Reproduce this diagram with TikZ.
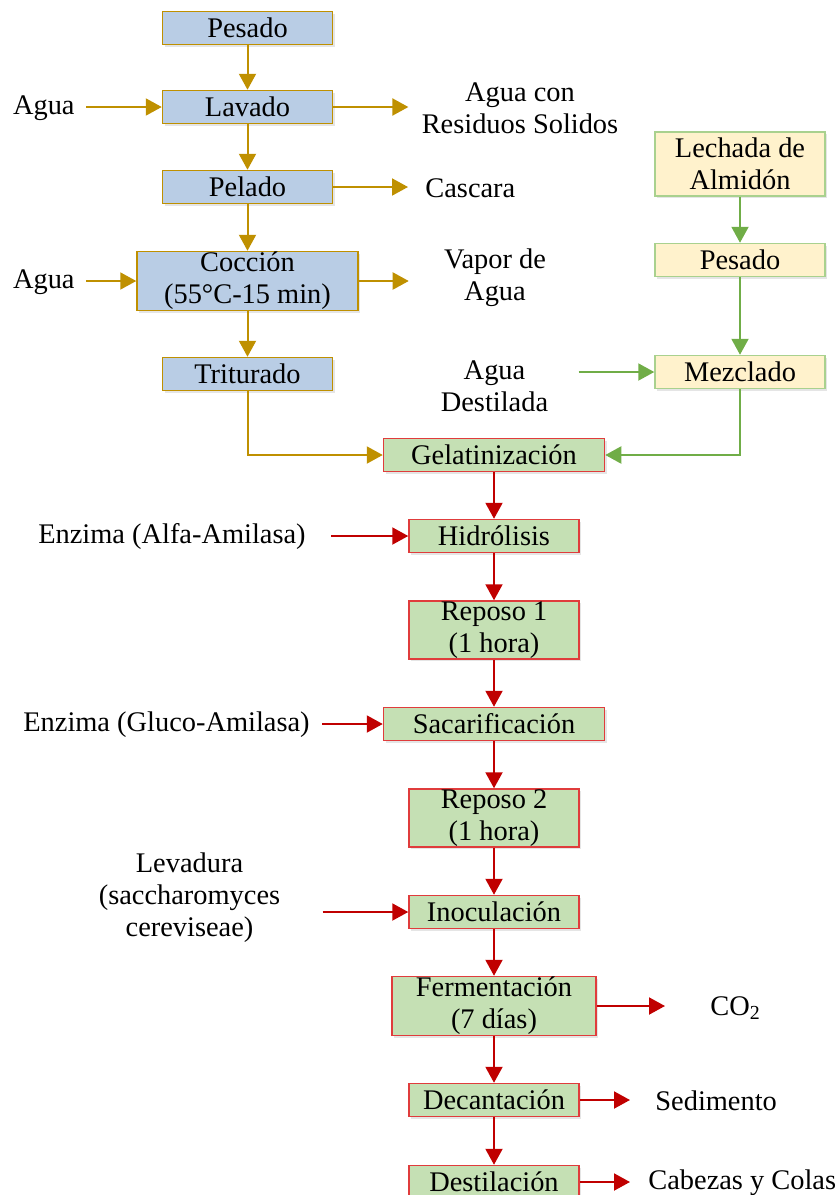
\documentclass[tikz,border=0pt]{standalone}
\usepackage{fontspec}
\setmainfont{Liberation Serif}
\usepackage{xcolor}
\definecolor{boxblue}{RGB}{185,205,229}
\definecolor{gold}{RGB}{191,144,0}
\definecolor{cream}{RGB}{255,242,204}
\definecolor{leaf}{RGB}{112,173,71}
\definecolor{leaflight}{RGB}{169,209,142}
\definecolor{mint}{RGB}{197,224,180}
\definecolor{crimson}{RGB}{192,0,0}
\definecolor{redline}{RGB}{224,60,60}
\usepackage{tikz}
\usetikzlibrary{arrows.meta,shadows}

\begin{document}
\begin{tikzpicture}[x=0.5pt, y=-0.5pt, >={Triangle[length=8pt,width=8.5pt]},
    every node/.style={font=\fontsize{14.2}{16}\selectfont},
    box/.style={draw, line width=0.75pt, inner sep=0pt, minimum height=16.5pt, align=center,
        drop shadow={shadow xshift=1pt, shadow yshift=-1pt, fill=black!40, opacity=0.25}},
    tuber/.style={box, fill=boxblue, draw=gold, minimum width=85pt},
    starch/.style={box, fill=cream, draw=leaflight, minimum width=85pt},
    brew/.style={box, fill=mint, draw=redline, minimum width=85pt},
    side/.style={inner sep=0pt, align=center},
    goldarr/.style={->, gold, line width=1pt},
    greenarr/.style={->, leaf, line width=1pt},
    redarr/.style={->, crimson, line width=1pt}]
    \useasboundingbox (0,0) rectangle (840,1195);

    % Tuber line
    \node[tuber] (pesadoA) at (247.5,28) {Pesado};
    \node[tuber] (lavado) at (247.5,107) {Lavado};
    \node[tuber] (pelado) at (247.5,187) {Pelado};
    \node[tuber, minimum width=110.5pt, minimum height=29.5pt] (coccion) at (247.5,281) {Cocción\\(55°C-15 min)};
    \node[tuber] (triturado) at (247.5,374) {Triturado};

    % Starch line
    \node[starch, minimum height=32pt] (lechada) at (740,164) {Lechada de\\Almidón};
    \node[starch] (pesadoB) at (740,260) {Pesado};
    \node[starch] (mezclado) at (740,372) {Mezclado};

    % Main process
    \node[brew, minimum width=110.5pt] (gelat) at (494,455) {Gelatinización};
    \node[brew] (hidrolisis) at (494,536) {Hidrólisis};
    \node[brew, minimum height=29pt] (reposoA) at (494,630) {Reposo 1\\(1 hora)};
    \node[brew, minimum width=110.5pt] (sacar) at (494,724) {Sacarificación};
    \node[brew, minimum height=29pt] (reposoB) at (494,818) {Reposo 2\\(1 hora)};
    \node[brew] (inocul) at (494,912) {Inoculación};
    \node[brew, minimum width=102pt, minimum height=29.5pt] (ferment) at (494,1006) {Fermentación\\(7 días)};
    \node[brew] (decant) at (494,1100) {Decantación};
    \node[brew] (destil) at (494,1182) {Destilación};

    % Inputs and outputs
    \node[side, anchor=east] (aguaA) at (75,108) {Agua};
    \node[side, anchor=east] (aguaB) at (75,282) {Agua};
    \node[side] (residuos) at (520,108) {Agua con\\Residuos Solidos};
    \node[side, anchor=west] (cascara) at (425,188) {Cascara};
    \node[side] (vapor) at (495,278) {Vapor de\\Agua};
    \node[side] (aguaDest) at (494.5,386) {Agua\\Destilada};
    \node[side, anchor=east] (alfa) at (306,537) {Enzima (Alfa-Amilasa)};
    \node[side, anchor=east] (gluco) at (310,725) {Enzima (Gluco-Amilasa)};
    \node[side] (levadura) at (189.5,898) {Levadura\\(saccharomyces\\cereviseae)};
    \node[side, anchor=west] (co2) at (710,1008) {CO\textsubscript{2}};
    \node[side, anchor=west] (sedimento) at (655,1101) {Sedimento};
    \node[side, anchor=west] (cabezas) at (648,1183) {Cabezas y Colas};

    % Gold arrows
    \draw[goldarr] (pesadoA) -- (lavado);
    \draw[goldarr] (lavado) -- (pelado);
    \draw[goldarr] (pelado) -- (coccion);
    \draw[goldarr] (coccion) -- (triturado);
    \draw[goldarr] (triturado) |- (gelat);
    \draw[goldarr, shorten <=5.5pt] (aguaA.east |- lavado) -- (lavado);
    \draw[goldarr, shorten <=5.5pt] (aguaB.east |- coccion) -- (coccion);
    \draw[goldarr, shorten >=6.5pt] (lavado) -- (lavado -| residuos.west);
    \draw[goldarr, shorten >=8.5pt] (pelado) -- (pelado -| cascara.west);
    \draw[goldarr, shorten >=17.5pt] (coccion) -- (coccion -| vapor.west);

    % Green arrows
    \draw[greenarr] (lechada) -- (pesadoB);
    \draw[greenarr] (pesadoB) -- (mezclado);
    \draw[greenarr] (mezclado) |- (gelat);
    \draw[greenarr, shorten <=15pt] (aguaDest.east |- mezclado) -- (mezclado);

    % Red arrows
    \draw[redarr] (gelat) -- (hidrolisis);
    \draw[redarr] (hidrolisis) -- (reposoA);
    \draw[redarr] (reposoA) -- (sacar);
    \draw[redarr] (sacar) -- (reposoB);
    \draw[redarr] (reposoB) -- (inocul);
    \draw[redarr] (inocul) -- (ferment);
    \draw[redarr] (ferment) -- (decant);
    \draw[redarr] (decant) -- (destil);
    \draw[redarr, shorten <=12.5pt] (alfa.east |- hidrolisis) -- (hidrolisis);
    \draw[redarr, shorten <=6pt] (gluco.east |- sacar) -- (sacar);
    \draw[redarr, shorten <=21pt] (levadura.east |- inocul) -- (inocul);
    \draw[redarr, shorten >=22.5pt] (ferment) -- (ferment -| co2.west);
    \draw[redarr, shorten >=12.5pt] (decant) -- (decant -| sedimento.west);
    \draw[redarr, shorten >=9pt] (destil) -- (destil -| cabezas.west);
\end{tikzpicture}
\end{document}
